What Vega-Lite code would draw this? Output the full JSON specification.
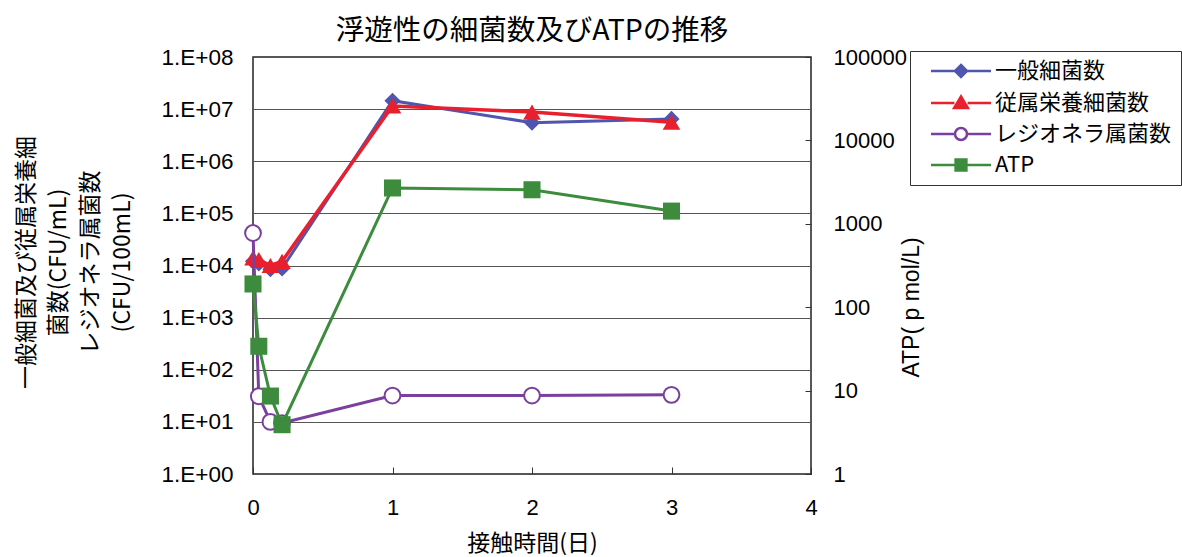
{
  "$schema": "https://vega.github.io/schema/vega-lite/v6.json",
  "width": 558,
  "height": 417,
  "autosize": {"type": "none"},
  "padding": {"left": 253, "top": 57, "right": 371, "bottom": 83},
  "background": "white",
  "title": {"text": "浮遊性の細菌数及びATPの推移", "font": "Noto Sans CJK JP", "fontSize": 28.5, "fontWeight": "normal", "color": "black", "anchor": "middle", "offset": 1},
  "datasets": {
    "d": [
      {"s": "一般細菌数", "t": 0, "v": 12000},
      {"s": "一般細菌数", "t": 0.0417, "v": 11000},
      {"s": "一般細菌数", "t": 0.125, "v": 8500},
      {"s": "一般細菌数", "t": 0.2083, "v": 8800},
      {"s": "一般細菌数", "t": 1, "v": 14500000},
      {"s": "一般細菌数", "t": 2, "v": 5500000},
      {"s": "一般細菌数", "t": 3, "v": 6500000},
      {"s": "従属栄養細菌数", "t": 0, "v": 14000},
      {"s": "従属栄養細菌数", "t": 0.0417, "v": 13000},
      {"s": "従属栄養細菌数", "t": 0.125, "v": 10000},
      {"s": "従属栄養細菌数", "t": 0.2083, "v": 12000},
      {"s": "従属栄養細菌数", "t": 1, "v": 11500000},
      {"s": "従属栄養細菌数", "t": 2, "v": 8800000},
      {"s": "従属栄養細菌数", "t": 3, "v": 5600000},
      {"s": "レジオネラ属菌数", "t": 0, "v": 42000},
      {"s": "レジオネラ属菌数", "t": 0.0417, "v": 31},
      {"s": "レジオネラ属菌数", "t": 0.125, "v": 10},
      {"s": "レジオネラ属菌数", "t": 0.2083, "v": 9.5},
      {"s": "レジオネラ属菌数", "t": 1, "v": 32},
      {"s": "レジオネラ属菌数", "t": 2, "v": 32},
      {"s": "レジオネラ属菌数", "t": 3, "v": 33},
      {"s": "ATP", "t": 0, "v": 190},
      {"s": "ATP", "t": 0.0417, "v": 34},
      {"s": "ATP", "t": 0.125, "v": 8.6},
      {"s": "ATP", "t": 0.2083, "v": 3.9},
      {"s": "ATP", "t": 1, "v": 2690},
      {"s": "ATP", "t": 2, "v": 2560},
      {"s": "ATP", "t": 3, "v": 1420}
    ]
  },
  "data": {"name": "d"},
  "encoding": {
    "x": {
      "field": "t", "type": "quantitative",
      "scale": {"domain": [0, 4], "nice": false, "zero": false},
      "axis": {
        "values": [0, 1, 2, 3, 4], "title": "接触時間(日)", "grid": false, "domain": false,
        "tickSize": -7, "tickColor": "#333", "tickWidth": 1,
        "labelFont": "Liberation Sans", "labelFontSize": 22, "labelColor": "black", "labelPadding": 30, "labelFlush": false,
        "titleFont": "Noto Sans CJK JP", "titleFontSize": 23, "titleFontWeight": "normal", "titleColor": "black", "titlePadding": 14
      }
    }
  },
  "layer": [
    {
      "encoding": {
        "y": {
          "field": "v", "type": "quantitative",
          "scale": {"type": "log", "domain": [1, 100000000]},
          "axis": {
            "orient": "left",
            "values": [1, 10, 100, 1000, 10000, 100000, 1000000, 10000000, 100000000],
            "labelExpr": "'1.E+0' + round(log(datum.value) / LN10)",
            "grid": true, "gridColor": "#555", "gridWidth": 1,
            "ticks": false, "domain": false,
            "labelFont": "Liberation Sans", "labelFontSize": 22.5, "labelColor": "black", "labelPadding": 20,
            "title": ["一般細菌及び従属栄養細", "菌数(CFU/mL)", "レジオネラ属菌数", "(CFU/100mL)"],
            "titleFont": "Noto Sans CJK JP", "titleFontSize": 23, "titleFontWeight": "normal", "titleColor": "black",
            "titleAngle": 270, "titleBaseline": "top", "titleAlign": "center", "titleX": -238, "titleY": 205, "titleLineHeight": 32
          }
        }
      },
      "layer": [
        {"transform": [{"filter": {"field": "s", "equal": "一般細菌数"}}], "mark": {"type": "line", "color": "#5055ad", "strokeWidth": 3}},
        {"transform": [{"filter": {"field": "s", "equal": "一般細菌数"}}], "mark": {"type": "point", "shape": "diamond", "filled": true, "color": "#5055ad", "size": 260, "opacity": 1}},
        {"transform": [{"filter": {"field": "s", "equal": "従属栄養細菌数"}}], "mark": {"type": "line", "color": "#e8202e", "strokeWidth": 3.5}},
        {"transform": [{"filter": {"field": "s", "equal": "従属栄養細菌数"}}], "mark": {"type": "point", "shape": "triangle-up", "filled": true, "color": "#e8202e", "size": 310, "opacity": 1}},
        {"transform": [{"filter": {"field": "s", "equal": "レジオネラ属菌数"}}], "mark": {"type": "line", "color": "#7b3f9f", "strokeWidth": 3}},
        {"transform": [{"filter": {"field": "s", "equal": "レジオネラ属菌数"}}], "mark": {"type": "point", "shape": "circle", "filled": true, "fill": "white", "stroke": "#7b3f9f", "strokeWidth": 2, "size": 250, "opacity": 1}}
      ]
    },
    {
      "encoding": {
        "y": {
          "field": "v", "type": "quantitative",
          "scale": {"type": "log", "domain": [1, 100000]},
          "axis": {
            "orient": "right",
            "values": [1, 10, 100, 1000, 10000, 100000], "format": "d",
            "grid": false, "domain": false, "tickSize": -6, "tickColor": "#333",
            "labelFont": "Liberation Sans", "labelFontSize": 22, "labelColor": "black", "labelPadding": 28,
            "title": "ATP( p mol/L)", "titleFont": "Liberation Sans", "titleFontSize": 23, "titleFontWeight": "normal", "titleColor": "black",
            "titleAngle": 270, "titleAlign": "center", "titleBaseline": "middle", "titleX": 100, "titleY": 250
          }
        }
      },
      "layer": [
        {"transform": [{"filter": {"field": "s", "equal": "ATP"}}], "mark": {"type": "line", "color": "#3d8b3d", "strokeWidth": 3}},
        {"transform": [{"filter": {"field": "s", "equal": "ATP"}}], "mark": {"type": "point", "shape": "square", "filled": true, "color": "#3d8b3d", "size": 290, "opacity": 1}}
      ]
    },
    {
      "transform": [{"filter": {"field": "s", "equal": "none"}}],
      "mark": {"type": "point", "filled": true, "strokeWidth": 2.5},
      "encoding": {
        "shape": {
          "field": "s", "type": "nominal",
          "scale": {"domain": ["一般細菌数", "従属栄養細菌数", "レジオネラ属菌数", "ATP"],
            "range": [
              "M-1,0H3.1M4.9,0H9M4,-1L5,0L4,1L3,0Z",
              "M-1,0H2.9M5.1,0H9M4,-1.1L5.15,0.85L2.85,0.85Z",
              "M-1,0H3M5,0H9M5,0A1,1 0 1,1 3,0A1,1 0 1,1 5,0Z",
              "M-1,0H3.1M4.9,0H9M3.1,-0.9H4.9V0.9H3.1Z"
            ]},
          "legend": {"title": null}
        },
        "fill": {
          "field": "s", "type": "nominal",
          "scale": {"domain": ["一般細菌数", "従属栄養細菌数", "レジオネラ属菌数", "ATP"], "range": ["#5055ad", "#e8202e", "white", "#3d8b3d"]},
          "legend": {"title": null}
        },
        "stroke": {
          "field": "s", "type": "nominal",
          "scale": {"domain": ["一般細菌数", "従属栄養細菌数", "レジオネラ属菌数", "ATP"], "range": ["#5055ad", "#e8202e", "#7b3f9f", "#3d8b3d"]},
          "legend": {"title": null}
        }
      }
    }
  ],
  "resolve": {"scale": {"y": "independent"}},
  "config": {
    "view": {"stroke": "#222", "strokeWidth": 1.5},
    "legend": {
      "orient": "none", "legendX": 657, "legendY": -6,
      "strokeColor": "#333", "padding": 9, "fillColor": "white",
      "labelFont": "Noto Sans CJK JP", "labelFontSize": 22, "labelColor": "black", "labelOffset": 47, "labelLimit": 400,
      "symbolSize": 144, "symbolStrokeWidth": 2.5, "symbolOpacity": 1, "symbolOffset": 7, "rowPadding": 9
    }
  }
}
